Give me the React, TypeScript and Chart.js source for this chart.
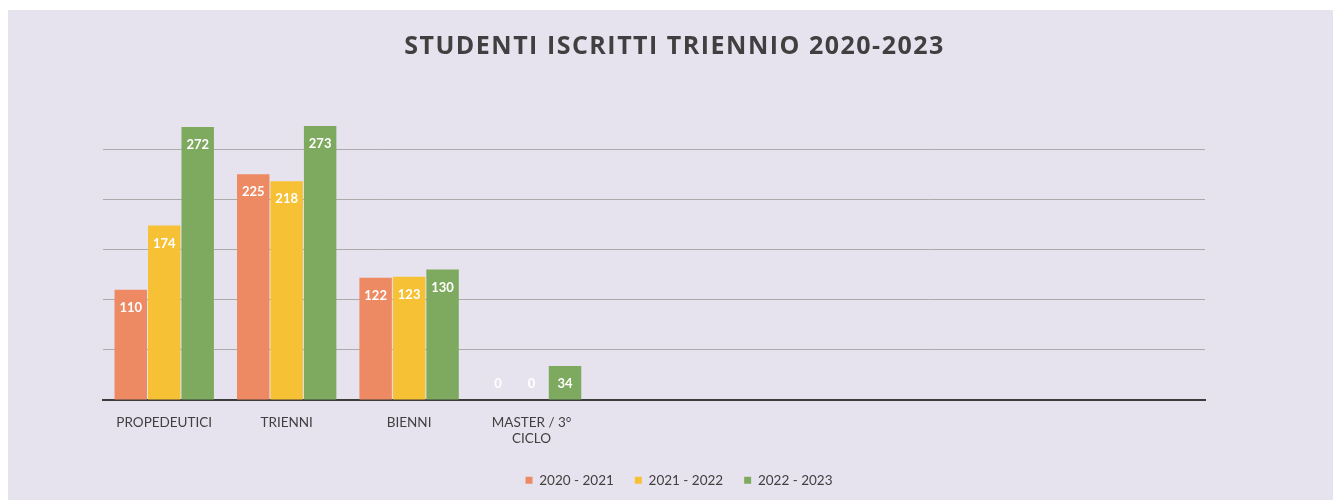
import React, { useEffect, useRef } from "react";
import { Chart, registerables } from "chart.js";

Chart.register(...registerables);

const categories: (string | string[])[] = [
  "PROPEDEUTICI",
  "TRIENNI",
  "BIENNI",
  ["MASTER / 3°", "CICLO"],
  "",
  "",
  "",
  "",
  "",
];
const seriesLabels = ["2020 - 2021", "2021 - 2022", "2022 - 2023"];
const values2020 = [110, 225, 122, 0, null, null, null, null, null];
const values2021 = [174, 218, 123, 0, null, null, null, null, null];
const values2022 = [272, 273, 130, 34, null, null, null, null, null];
const colors = ["#EE8A63", "#F7C136", "#7DAA5E"];
const titleText = "STUDENTI ISCRITTI TRIENNIO 2020-2023";

const valueLabels = {
  id: "valueLabels",
  afterDatasetsDraw(chart: any) {
    const { ctx } = chart;
    ctx.save();
    ctx.fillStyle = "#ffffff";
    ctx.font = "bold 13px Lato, 'Open Sans', sans-serif";
    ctx.textAlign = "center";
    ctx.textBaseline = "middle";
    chart.data.datasets.forEach((ds: any, i: number) => {
      const meta = chart.getDatasetMeta(i);
      meta.data.forEach((bar: any, j: number) => {
        const v = ds.data[j];
        if (v === null || v === undefined) return;
        const y = Math.min(bar.y + 18, bar.base - 16);
        ctx.fillText(String(v), bar.x, y);
      });
    });
    ctx.restore();
  },
};

const spacedTitle = {
  id: "spacedTitle",
  afterDraw(chart: any) {
    const { ctx } = chart;
    ctx.save();
    ctx.fillStyle = "#404040";
    ctx.font = "bold 25px 'Open Sans', Lato, sans-serif";
    (ctx as any).letterSpacing = "1.5px";
    ctx.textAlign = "center";
    ctx.textBaseline = "middle";
    ctx.fillText(titleText, chart.width / 2 + 4, 37);
    ctx.restore();
  },
};

const shiftLegend = {
  id: "shiftLegend",
  afterLayout(chart: any) {
    const dx = 25;
    if (chart.legend) {
      chart.legend.left += dx;
      chart.legend.right += dx;
    }
  },
};

export default function App() {
  const ref = useRef<HTMLCanvasElement>(null);
  useEffect(() => {
    if (!ref.current) return;
    const chart = new Chart(ref.current, {
      type: "bar",
      data: {
        labels: categories,
        datasets: [values2020, values2021, values2022].map((d, i) => ({
          label: seriesLabels[i],
          data: d,
          backgroundColor: colors[i],
          borderWidth: 0,
          barPercentage: 0.97,
          categoryPercentage: 0.82,
        })),
      },
      options: {
        responsive: false,
        animation: false,
        maintainAspectRatio: false,
        layout: { padding: { left: 95, right: 128, top: 89, bottom: 3 } },
        plugins: {
          title: { display: false },
          legend: {
            position: "bottom",
            labels: {
              color: "#404040",
              font: { family: "Lato, 'Open Sans', sans-serif", size: 13.5 },
              boxWidth: 7,
              boxHeight: 7,
              padding: 21,
            },
          },
          tooltip: { enabled: false },
        },
        scales: {
          x: {
            grid: { display: false },
            border: { display: true, color: "#3c3c3c", width: 2 },
            ticks: {
              color: "#404040",
              font: { family: "Lato, 'Open Sans', sans-serif", size: 13.5 },
              padding: 6,
              maxRotation: 0,
              autoSkip: false,
            },
          },
          y: {
            min: 0,
            max: 300,
            ticks: { display: false, stepSize: 50 },
            border: { display: false },
            grid: {
              color: (c: any) => (c.tick && c.tick.value === 300 ? "rgba(0,0,0,0)" : "#ababab"),
              drawTicks: false,
            },
          },
        },
      },
      plugins: [valueLabels, spacedTitle, shiftLegend],
    });
    return () => chart.destroy();
  }, []);
  return (
    <div style={{ width: 1325, height: 490, marginTop: 2, background: "#e7e3ee" }}>
      <canvas ref={ref} width={1325} height={490} style={{ display: "block" }} />
    </div>
  );
}
